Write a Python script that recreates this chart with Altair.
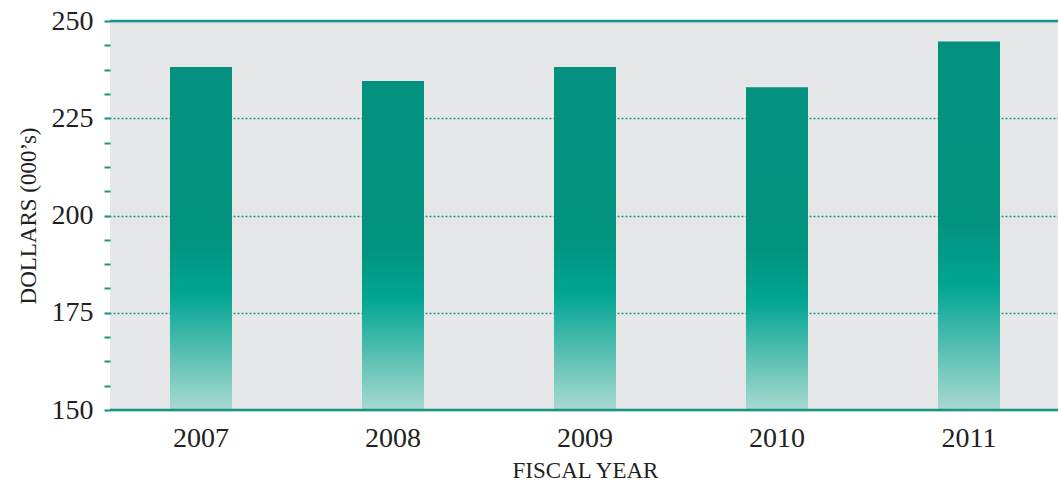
import altair as alt
import pandas as pd

years = ["2007", "2008", "2009", "2010", "2011"]
values = [238.2, 234.6, 238.2, 233.0, 244.7]
y_domain = [150, 250]
tick_values = [150 + 6.25 * i for i in range(17)]

df = pd.DataFrame({"year": years, "value": values})
frame = pd.DataFrame({"value": y_domain})

TEAL = "#1a9580"
TEXT = "#231f20"
FONT = "Liberation Serif"

grad = alt.Gradient(
    gradient="linear",
    x1=0, x2=0, y1=0, y2=1,
    stops=[
        alt.GradientStop(offset=0, color="#02917e"),
        alt.GradientStop(offset=0.5, color="#02937f"),
        alt.GradientStop(offset=0.66, color="#00a592"),
        alt.GradientStop(offset=1, color="#a9d9d0"),
    ],
)

yscale = alt.Scale(domain=y_domain, zero=False, nice=False)
yaxis = alt.Axis(values=tick_values,
                 labelExpr="datum.value % 25 === 0 ? datum.label : ''",
                 domain=False, tickColor=TEAL, tickSize=6, tickWidth=2,
                 labelPadding=11, labelFontSize=28, labelFont=FONT, labelColor=TEXT,
                 titleFontSize=23, titleFont=FONT, titleColor=TEXT,
                 titleFontWeight="normal", titlePadding=11,
                 grid=True, gridColor=TEAL, gridDash=[2, 2], gridWidth=1.5,
                 gridOpacity={"condition": {"test": "datum.value % 25 === 0", "value": 1}, "value": 0})

bars = alt.Chart(df).mark_bar(width=62, color=grad).encode(
    x=alt.X("year:N", title="FISCAL YEAR",
            scale=alt.Scale(range=[-5, 955], paddingInner=0, paddingOuter=0),
            axis=alt.Axis(labelAngle=0, ticks=False, domain=False, labelPadding=14,
                          labelFontSize=28, labelFont=FONT, labelColor=TEXT,
                          titleFontSize=23, titleFont=FONT, titleColor=TEXT,
                          titleFontWeight="normal", titlePadding=7)),
    y=alt.Y("value:Q", title="DOLLARS (000’s)", scale=yscale, axis=yaxis),
    y2=alt.datum(150),
)

lines = alt.Chart(frame).mark_rule(color=TEAL, strokeWidth=2.5).encode(
    y=alt.Y("value:Q", title="DOLLARS (000’s)", scale=yscale, axis=yaxis),
)

chart = alt.layer(bars, lines).properties(
    width=948, height=389,
    background="white",
    padding={"left": 110, "top": 21, "right": 0, "bottom": 74},
    autosize=alt.AutoSizeParams(type="none"),
).configure_view(fill="#e5e6e8", stroke=None)

chart.save("out.html", embed_options={"renderer": "svg", "actions": False})
